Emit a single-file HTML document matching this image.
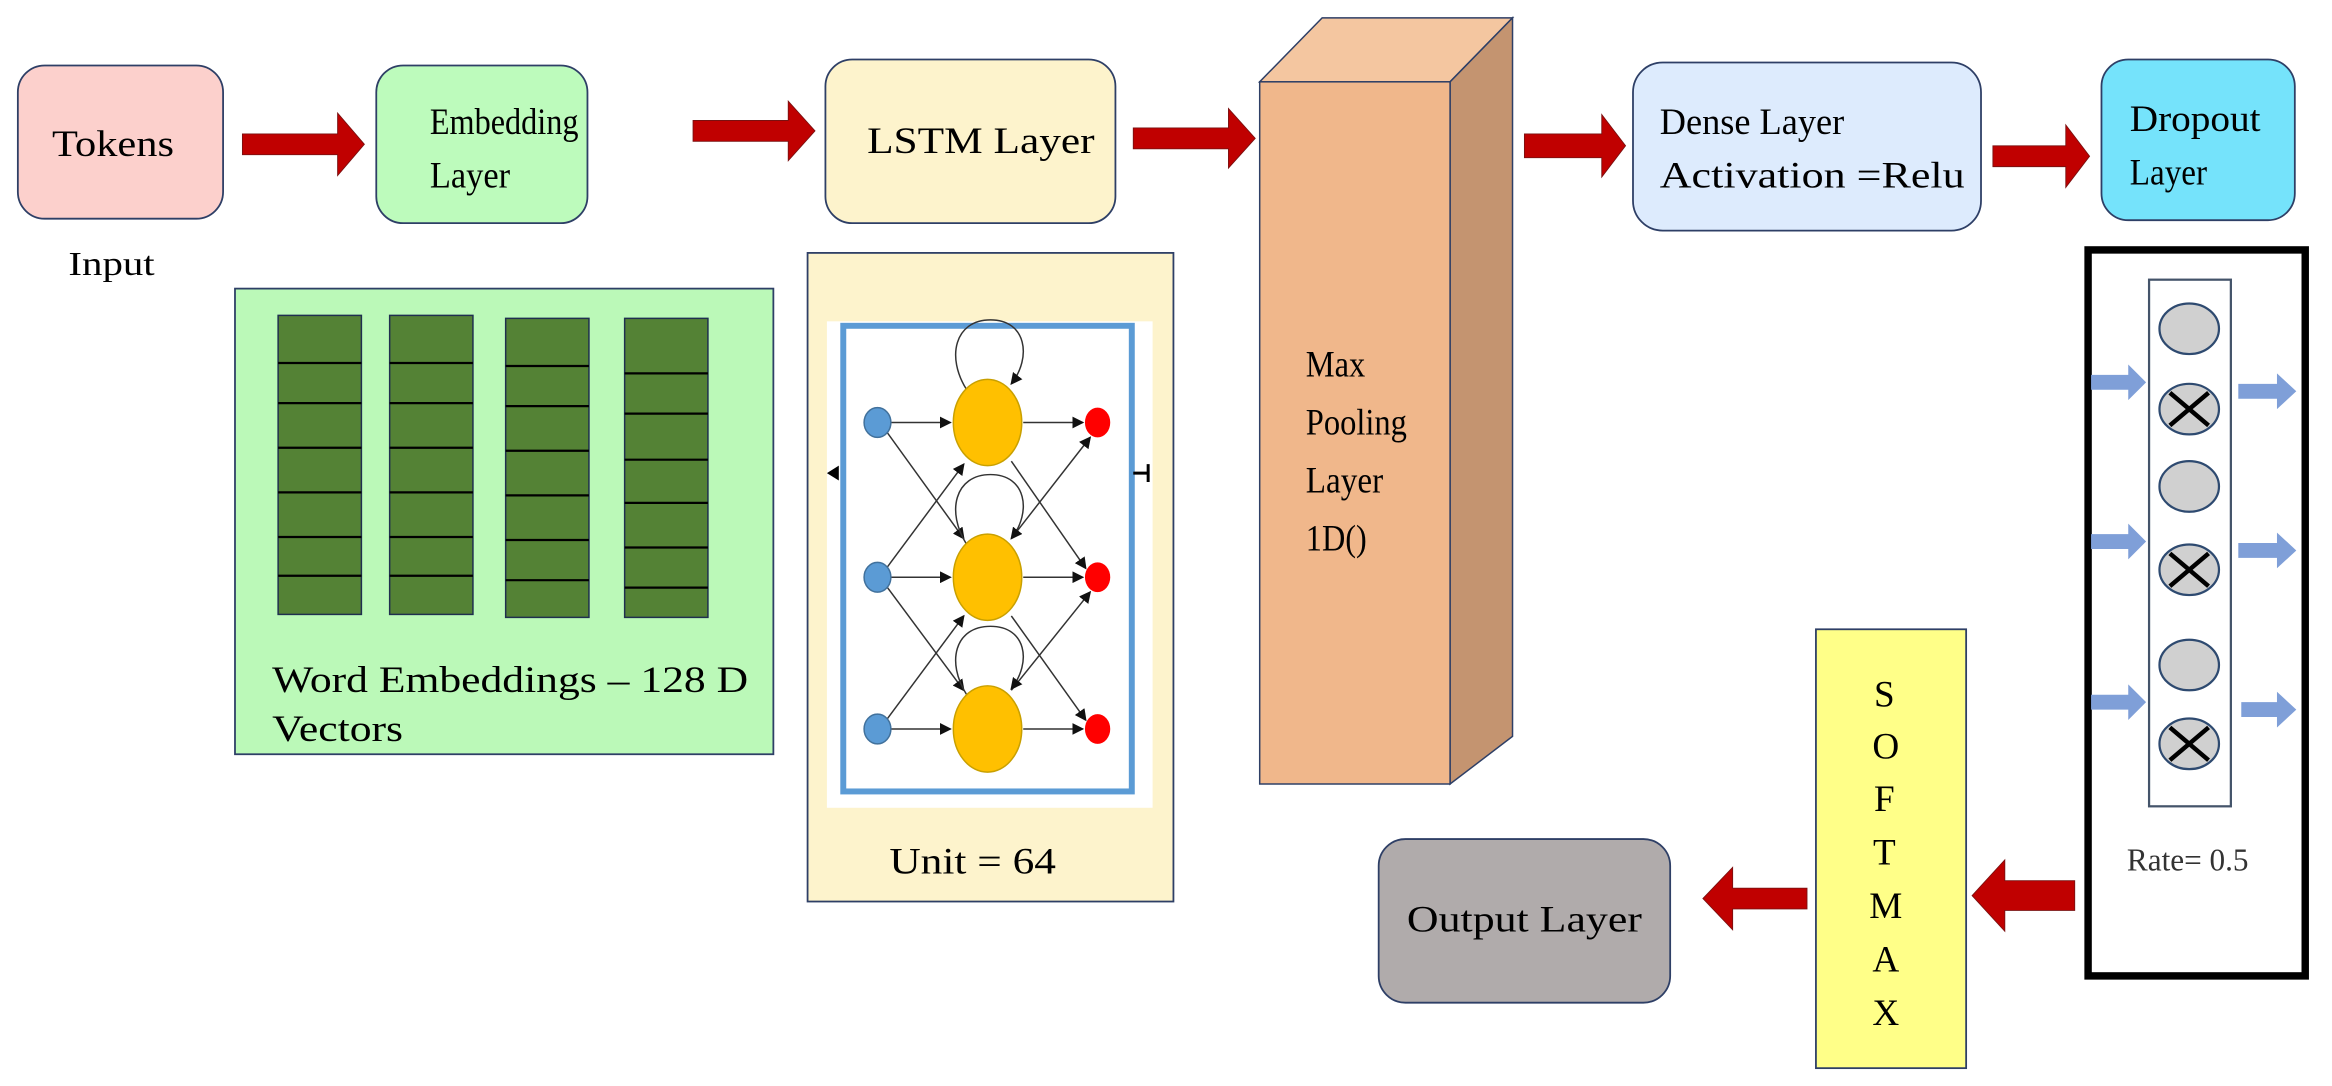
<!DOCTYPE html>
<html><head><meta charset="utf-8"><style>
html,body{margin:0;padding:0;background:#fff;}
svg{display:block;}
text{font-family:"Liberation Serif",serif;fill:#000;}
</style></head><body>
<svg width="2332" height="1086" viewBox="0 0 1568 730" preserveAspectRatio="none" xmlns="http://www.w3.org/2000/svg">
<defs>
<marker id="ah" markerWidth="8" markerHeight="8" refX="7" refY="4" orient="auto" markerUnits="userSpaceOnUse"><path d="M0,0 L8,4 L0,8 Z" fill="#111"/></marker>
</defs>
<rect x="12" y="44" width="138" height="103" rx="18" fill="#fcd0cc" stroke="#2e3f66" stroke-width="1.2"/>
<text x="76" y="105" font-size="25" text-anchor="middle" textLength="82" lengthAdjust="spacingAndGlyphs">Tokens</text>
<text x="75" y="185" font-size="23" text-anchor="middle" textLength="58" lengthAdjust="spacingAndGlyphs">Input</text>

<rect x="253" y="44" width="142" height="106" rx="18" fill="#bdfbbc" stroke="#2e3f66" stroke-width="1.2"/>
<text x="289" y="90" font-size="25" textLength="100" lengthAdjust="spacingAndGlyphs">Embedding</text>
<text x="289" y="126" font-size="25" textLength="54" lengthAdjust="spacingAndGlyphs">Layer</text>

<rect x="555" y="40" width="195" height="110" rx="18" fill="#fdf3cc" stroke="#2e3f66" stroke-width="1.2"/>
<text x="583" y="103" font-size="25" textLength="153" lengthAdjust="spacingAndGlyphs">LSTM Layer</text>

<polygon points="847,55 889,12 1017,12 975,55" fill="#f4c6a0" stroke="#2e3f66" stroke-width="1"/>
<polygon points="975,55 1017,12 1017,495 975,527" fill="#c49470" stroke="#2e3f66" stroke-width="1"/>
<rect x="847" y="55" width="128" height="472" fill="#f0b78b" stroke="#2e3f66" stroke-width="1"/>
<text x="878" y="253" font-size="25" textLength="40" lengthAdjust="spacingAndGlyphs">Max</text>
<text x="878" y="292" font-size="25" textLength="68" lengthAdjust="spacingAndGlyphs">Pooling</text>
<text x="878" y="331" font-size="25" textLength="52" lengthAdjust="spacingAndGlyphs">Layer</text>
<text x="878" y="370" font-size="25" textLength="41" lengthAdjust="spacingAndGlyphs">1D()</text>

<rect x="1098" y="42" width="234" height="113" rx="20" fill="#ddebfd" stroke="#2e3f66" stroke-width="1.2"/>
<text x="1116" y="90" font-size="25" textLength="124" lengthAdjust="spacingAndGlyphs">Dense Layer</text>
<text x="1116" y="126" font-size="25" textLength="205" lengthAdjust="spacingAndGlyphs">Activation =Relu</text>

<rect x="1413" y="40" width="130" height="108" rx="18" fill="#75e3fb" stroke="#2e3f66" stroke-width="1.2"/>
<text x="1432" y="88" font-size="25" textLength="88" lengthAdjust="spacingAndGlyphs">Dropout</text>
<text x="1432" y="124" font-size="25" textLength="52" lengthAdjust="spacingAndGlyphs">Layer</text>

<g fill="#c00000" stroke="#7a1010" stroke-width="0.6">
<polygon points="163,90 227,90 227,76 245,97 227,118 227,104 163,104"/>
<polygon points="466,81 530,81 530,68 548,88 530,108 530,95 466,95"/>
<polygon points="762,86 826,86 826,73 844,93 826,113 826,100 762,100"/>
<polygon points="1025,90 1077,90 1077,77 1093,98 1077,119 1077,106 1025,106"/>
<polygon points="1340,98 1389,98 1389,84 1405,105 1389,126 1389,112 1340,112"/>
<polygon points="1395,592 1348,592 1348,578 1326,602 1348,626 1348,612 1395,612"/>
<polygon points="1215,597 1165,597 1165,583 1145,604 1165,625 1165,611 1215,611"/>
</g>

<rect x="158" y="194" width="362" height="313" fill="#bbf9b8" stroke="#2e3f66" stroke-width="1.2"/>
<g fill="#548235" stroke="#1f2f4f" stroke-width="1">
<rect x="187" y="212" width="56" height="201"/>
<rect x="262" y="212" width="56" height="201"/>
<rect x="340" y="214" width="56" height="201"/>
<rect x="420" y="214" width="56" height="201"/>
</g>
<g stroke="#000" stroke-width="1.5">
<path d="M187 244H243M187 271H243M187 301H243M187 331H243M187 361H243M187 387H243"/>
<path d="M262 244H318M262 271H318M262 301H318M262 331H318M262 361H318M262 387H318"/>
<path d="M340 246H396M340 273H396M340 303H396M340 333H396M340 363H396M340 390H396"/>
<path d="M420 251H476M420 278H476M420 309H476M420 338H476M420 368H476M420 395H476"/>
</g>
<text x="183" y="465" font-size="25" textLength="320" lengthAdjust="spacingAndGlyphs">Word Embeddings – 128 D</text>
<text x="183" y="498" font-size="25" textLength="88" lengthAdjust="spacingAndGlyphs">Vectors</text>

<rect x="543" y="170" width="246" height="436" fill="#fdf3cc" stroke="#2e3f66" stroke-width="1.2"/>
<rect x="556" y="216" width="219" height="327" fill="#fff"/>
<rect x="567" y="219" width="194" height="313" fill="none" stroke="#5b9bd5" stroke-width="4"/>
<path d="M556,318 l8,-5 v10 z" fill="#000"/>
<path d="M762,318 h10 M772,312 v12" stroke="#000" stroke-width="2"/>
<g stroke="#333" stroke-width="1" fill="none" marker-end="url(#ah)">
<path d="M599,284 L639,284"/><path d="M599,388 L639,388"/><path d="M599,490 L639,490"/>
<path d="M688,284 L728,284"/><path d="M688,388 L728,388"/><path d="M688,490 L728,490"/>
<path d="M596,290 L648,362"/><path d="M596,394 L648,464"/>
<path d="M596,382 L648,312"/><path d="M596,484 L648,414"/>
<path d="M680,310 L730,382"/><path d="M680,414 L730,484"/>
<path d="M680,362 L733,294"/><path d="M680,464 L733,398"/>
<path d="M650,262 C636,240 642,215 666,215 C690,215 694,240 680,258"/>
<path d="M650,366 C636,344 642,319 666,319 C690,319 694,344 680,362"/>
<path d="M650,467 C636,445 642,421 666,421 C690,421 694,445 680,463"/>
</g>
<g fill="#5b9bd5" stroke="#41719c" stroke-width="1">
<ellipse cx="590" cy="284" rx="9" ry="10"/><ellipse cx="590" cy="388" rx="9" ry="10"/><ellipse cx="590" cy="490" rx="9" ry="10"/>
</g>
<g fill="#ffc000" stroke="#c9a000" stroke-width="1">
<ellipse cx="664" cy="284" rx="23" ry="29"/><ellipse cx="664" cy="388" rx="23" ry="29"/><ellipse cx="664" cy="490" rx="23" ry="29"/>
</g>
<g fill="#ff0000">
<ellipse cx="738" cy="284" rx="8.5" ry="10"/><ellipse cx="738" cy="388" rx="8.5" ry="10"/><ellipse cx="738" cy="490" rx="8.5" ry="10"/>
</g>
<text x="654" y="587" font-size="25" text-anchor="middle" textLength="112" lengthAdjust="spacingAndGlyphs">Unit = 64</text>

<rect x="1404" y="168" width="146" height="488" fill="#fff" stroke="#000" stroke-width="5"/>
<rect x="1445" y="188" width="55" height="354" fill="#fff" stroke="#44546a" stroke-width="1.5"/>
<g fill="#d0d0d0" stroke="#2e4a70" stroke-width="1.5">
<ellipse cx="1472" cy="221" rx="20" ry="17"/><ellipse cx="1472" cy="275" rx="20" ry="17"/>
<ellipse cx="1472" cy="327" rx="20" ry="17"/><ellipse cx="1472" cy="383" rx="20" ry="17"/>
<ellipse cx="1472" cy="447" rx="20" ry="17"/><ellipse cx="1472" cy="500" rx="20" ry="17"/>
</g>
<g stroke="#000" stroke-width="3">
<path d="M1459,264 L1485,286 M1485,264 L1459,286"/>
<path d="M1459,372 L1485,394 M1485,372 L1459,394"/>
<path d="M1459,489 L1485,511 M1485,489 L1459,511"/>
</g>
<g fill="#7f9fd8">
<polygon points="1406,252 1431,252 1431,245 1443,257 1431,269 1431,262 1406,262"/>
<polygon points="1406,359 1431,359 1431,352 1443,364 1431,376 1431,369 1406,369"/>
<polygon points="1406,467 1431,467 1431,460 1443,472 1431,484 1431,477 1406,477"/>
<polygon points="1505,258 1531,258 1531,251 1544,263 1531,275 1531,268 1505,268"/>
<polygon points="1505,365 1531,365 1531,358 1544,370 1531,382 1531,375 1505,375"/>
<polygon points="1507,472 1531,472 1531,465 1544,477 1531,489 1531,482 1507,482"/>
</g>
<text x="1471" y="585" font-size="21" text-anchor="middle" style="fill:#333">Rate= 0.5</text>

<rect x="1221" y="423" width="101" height="295" fill="#ffff88" stroke="#2e3f66" stroke-width="1.2"/>
<g font-size="25" text-anchor="middle">
<text x="1267" y="475">S</text><text x="1268" y="510">O</text><text x="1267" y="545">F</text>
<text x="1267" y="581">T</text><text x="1268" y="617">M</text><text x="1268" y="653">A</text><text x="1268" y="689">X</text>
</g>

<rect x="927" y="564" width="196" height="110" rx="18" fill="#b0abab" stroke="#2e3f66" stroke-width="1.2"/>
<text x="1025" y="626" font-size="25" text-anchor="middle" textLength="158" lengthAdjust="spacingAndGlyphs">Output Layer</text>
</svg>
</body></html>
